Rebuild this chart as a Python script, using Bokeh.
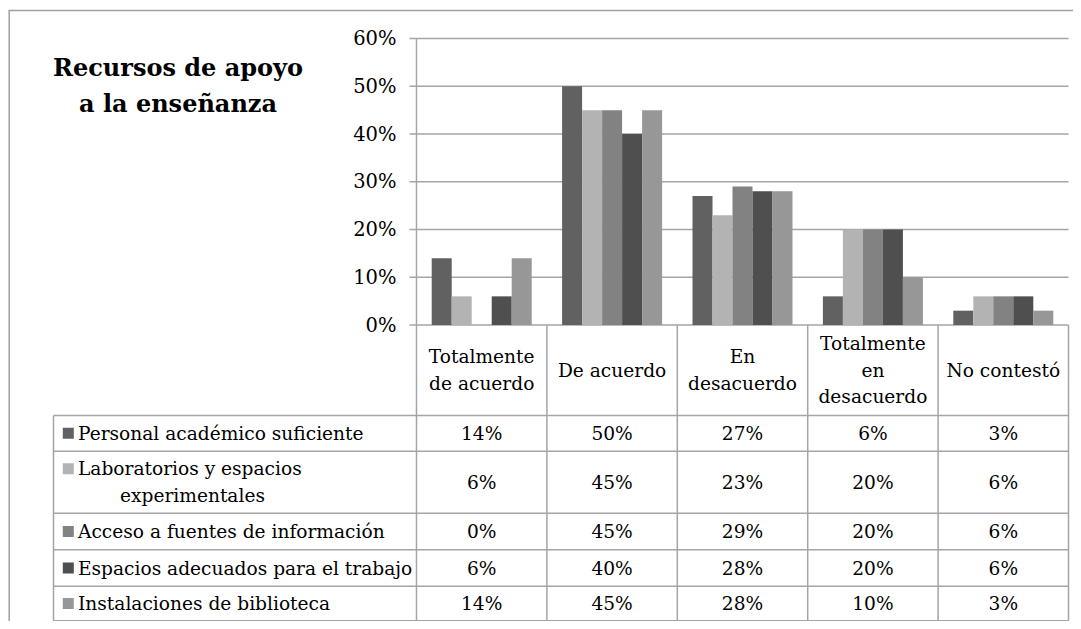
from bokeh.plotting import figure
from bokeh.models import Range1d, ColumnDataSource
from bokeh.core.properties import value
from bokeh.embed import file_html
from bokeh.resources import INLINE

# ---------------- data ----------------
categories = ["Totalmente de acuerdo", "De acuerdo", "En desacuerdo",
              "Totalmente en desacuerdo", "No contestó"]
header_lines = [["Totalmente", "de acuerdo"], ["De acuerdo"], ["En", "desacuerdo"],
                ["Totalmente", "en", "desacuerdo"], ["No contestó"]]
series_names = ["Personal académico suficiente",
                "Laboratorios y espacios experimentales",
                "Acceso a fuentes de información",
                "Espacios adecuados para el trabajo",
                "Instalaciones de biblioteca"]
series_label_lines = [["Personal académico suficiente"],
                      ["Laboratorios y espacios", "experimentales"],
                      ["Acceso a fuentes de información"],
                      ["Espacios adecuados para el trabajo"],
                      ["Instalaciones de biblioteca"]]
personal = [14, 50, 27, 6, 3]
laboratorios = [6, 45, 23, 20, 6]
acceso = [0, 45, 29, 20, 6]
espacios = [6, 40, 28, 20, 6]
instalaciones = [14, 45, 28, 10, 3]
series_values = [personal, laboratorios, acceso, espacios, instalaciones]
y_ticks = [0, 10, 20, 30, 40, 50, 60]
y_tick_labels = ["0%", "10%", "20%", "30%", "40%", "50%", "60%"]
title_lines = ["Recursos de apoyo", "a la enseñanza"]

# ---------------- style / layout ----------------
colors = ["#616161", "#b3b3b3", "#828282", "#4f4f4f", "#979797"]
GRID = "#a5a5a5"
FONT = value("DejaVu Serif")
W, H = 1073, 621
PLOT_LEFT = 416.0
CAT_W = 130.4
Y0 = 324.5            # y of 0%
PX_PER_PCT = 4.775
TABLE_LEFT = 53.0
row_heights = [35.7, 62.0, 36.6, 36.4, 36.0]
HEADER_BOTTOM = 415.0
BAR_PX = 20.0
FS = "18.6px"

p = figure(width=W, height=H, output_backend="svg", toolbar_location=None,
           x_range=Range1d(0, W), y_range=Range1d(H, 0),
           x_axis_type=None, y_axis_type=None, min_border=0)
p.grid.visible = False
p.outline_line_color = None
p.background_fill_color = "white"

n_cat = len(categories)
p.extra_x_ranges = {"cat": Range1d((0 - PLOT_LEFT) / CAT_W, (W - PLOT_LEFT) / CAT_W)}
p.extra_y_ranges = {"pct": Range1d((Y0 - H) / PX_PER_PCT, (Y0 - 0) / PX_PER_PCT)}

# outer frame (left + top)
p.segment(x0=[8.7, 8], y0=[10, 10], x1=[8.7, W], y1=[H, 10],
          line_color="#a0a0a0", line_width=1.5)

# title
for k, t in enumerate(title_lines):
    p.text(x=[177.5], y=[67 + 36 * k], text=[t], text_font=FONT,
           text_font_size=value("24px"), text_font_style="bold",
           text_align="center", text_baseline="alphabetic", text_color="black")

# gridlines, ticks, tick labels
tick_len = 7.0 / CAT_W
p.segment(x0=[-tick_len] * len(y_ticks), y0=y_ticks, x1=[n_cat] * len(y_ticks), y1=y_ticks,
          x_range_name="cat", y_range_name="pct", line_color=GRID, line_width=1.5)
p.text(x=[396] * len(y_ticks), y=[Y0 - t * PX_PER_PCT for t in y_ticks], text=y_tick_labels,
       text_font=FONT, text_font_size=value("19.5px"), text_align="right",
       text_baseline="middle", text_color="black")

# bars
bw = BAR_PX / CAT_W
for j, vals in enumerate(series_values):
    src = ColumnDataSource(dict(x=[i + 0.5 + (j - 2) * bw for i in range(n_cat)], top=vals))
    p.vbar(x="x", top="top", bottom=0, width=bw, source=src, x_range_name="cat",
           y_range_name="pct", fill_color=colors[j], line_color=None)

# data table
row_bounds = [HEADER_BOTTOM]
for h in row_heights:
    row_bounds.append(row_bounds[-1] + h)
TABLE_BOTTOM = min(row_bounds[-1], H - 0.8)
row_bounds[-1] = TABLE_BOTTOM
col_x = [PLOT_LEFT + CAT_W * i for i in range(n_cat + 1)]

vx0, vy0, vx1, vy1 = [], [], [], []
vx0.append(col_x[0]); vy0.append(Y0 - 60 * PX_PER_PCT); vx1.append(col_x[0]); vy1.append(TABLE_BOTTOM)
for xx in col_x[1:]:
    vx0.append(xx); vy0.append(Y0); vx1.append(xx); vy1.append(TABLE_BOTTOM)
vx0.append(TABLE_LEFT); vy0.append(HEADER_BOTTOM); vx1.append(TABLE_LEFT); vy1.append(TABLE_BOTTOM)
p.segment(x0=vx0, y0=vy0, x1=vx1, y1=vy1, line_color=GRID, line_width=1.5)
p.segment(x0=[TABLE_LEFT] * len(row_bounds), y0=row_bounds,
          x1=[col_x[-1]] * len(row_bounds), y1=row_bounds, line_color=GRID, line_width=1.5)

LINE_H = 26.7
header_mid = (Y0 + HEADER_BOTTOM) / 2
for i, lines in enumerate(header_lines):
    cx = (col_x[i] + col_x[i + 1]) / 2
    n = len(lines)
    ys = [header_mid + (k - (n - 1) / 2) * LINE_H for k in range(n)]
    p.text(x=[cx] * n, y=ys, text=lines, text_font=FONT, text_font_size=value(FS),
           text_align="center", text_baseline="middle", text_color="black")

for j, vals in enumerate(series_values):
    top, bot = row_bounds[j], row_bounds[j + 1]
    mid = (top + bot) / 2
    lines = series_label_lines[j]
    n = len(lines)
    ys = [mid + (k - (n - 1) / 2) * LINE_H for k in range(n)]
    p.rect(x=[67.8], y=[ys[0]], width=11, height=11, fill_color=colors[j], line_color=None)
    p.text(x=[77.5], y=[ys[0]], text=[lines[0]], text_font=FONT, text_font_size=value(FS),
           text_align="left", text_baseline="middle", text_color="black")
    if n > 1:
        p.text(x=[192] * (n - 1), y=ys[1:], text=lines[1:], text_font=FONT,
               text_font_size=value(FS), text_align="center", text_baseline="middle",
               text_color="black")
    cxs = [(col_x[i] + col_x[i + 1]) / 2 for i in range(n_cat)]
    p.text(x=cxs, y=[mid] * n_cat, text=[f"{v}%" for v in vals], text_font=FONT,
           text_font_size=value(FS), text_align="center", text_baseline="middle",
           text_color="black")

open("out.html", "w").write(file_html(p, INLINE))
